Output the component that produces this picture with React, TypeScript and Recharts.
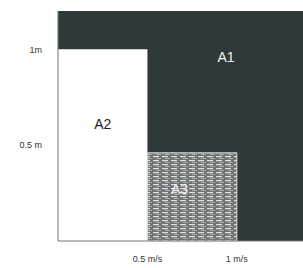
import { ComposedChart, XAxis, YAxis, ReferenceArea, ReferenceDot } from 'recharts';

// regions of the diagram, in axis units (x: m/s, y: m)
const regions = ['A1', 'A2', 'A3'];
const xFrom = [0, 0, 0.5];
const xTo = [1.37, 0.5, 1.0];
const yTop = [1.2, 1.0, 0.46];
const labelX = [0.94, 0.25, 0.68];
const labelY = [0.96, 0.61, 0.27];

const xTicks = [0.5, 1];
const xTickLabels = ['0.5 m/s', '1 m/s'];
const yTicks = [0.5, 1];
const yTickLabels = ['0.5 m', '1m'];

const fills = ['#2e3a3a', '#ffffff', 'url(#scan)'];
const labelColors = ['#f2f2f2', '#222', '#f2f2f2'];

export default function App() {
  return (
    <div style={{ position: 'absolute', left: 0, top: 0, background: '#fff' }}>
      <ComposedChart
        width={303}
        height={268}
        data={[]}
        margin={{ top: 11, right: 0, bottom: 0, left: 0 }}
      >
        <defs>
          <pattern id="scan" width="9" height="4" patternUnits="userSpaceOnUse">
            <rect width="9" height="4" fill="#6f7373" />
            <rect y="0" width="6" height="1.2" fill="#e0e0e0" />
            <rect x="3" y="2" width="5" height="1" fill="#a8abab" />
          </pattern>
        </defs>
        <XAxis
          type="number"
          dataKey="x"
          domain={[0, 1.37]}
          ticks={xTicks}
          tickFormatter={(v: number) => xTickLabels[xTicks.indexOf(v)]}
          height={27}
          tickLine={false}
          axisLine={{ stroke: '#777' }}
          tick={{ fontSize: 9, fill: '#333', fontFamily: 'Liberation Sans' }}
          tickMargin={9}
          allowDataOverflow
        />
        <YAxis
          type="number"
          domain={[0, 1.2]}
          ticks={yTicks}
          tickFormatter={(v: number) => yTickLabels[yTicks.indexOf(v)]}
          width={58}
          tickLine={false}
          axisLine={{ stroke: '#777' }}
          tick={{ fontSize: 9, fill: '#333', fontFamily: 'Liberation Sans' }}
          tickMargin={10}
          allowDataOverflow
        />
        {regions.map((r, i) => (
          <ReferenceArea
            key={r}
            x1={xFrom[i]}
            x2={xTo[i]}
            y1={0}
            y2={yTop[i]}
            fill={fills[i]}
            fillOpacity={1}
            stroke={i === 2 ? '#ddd' : 'none'}
            ifOverflow="visible"
          />
        ))}
        {regions.map((r, i) => (
          <ReferenceDot
            key={'l' + r}
            x={labelX[i]}
            y={labelY[i]}
            r={0}
            stroke="none"
            label={{
              value: r,
              position: 'center',
              fill: labelColors[i],
              fontSize: 14,
              fontFamily: 'Liberation Sans',
            }}
          />
        ))}
      </ComposedChart>
    </div>
  );
}
